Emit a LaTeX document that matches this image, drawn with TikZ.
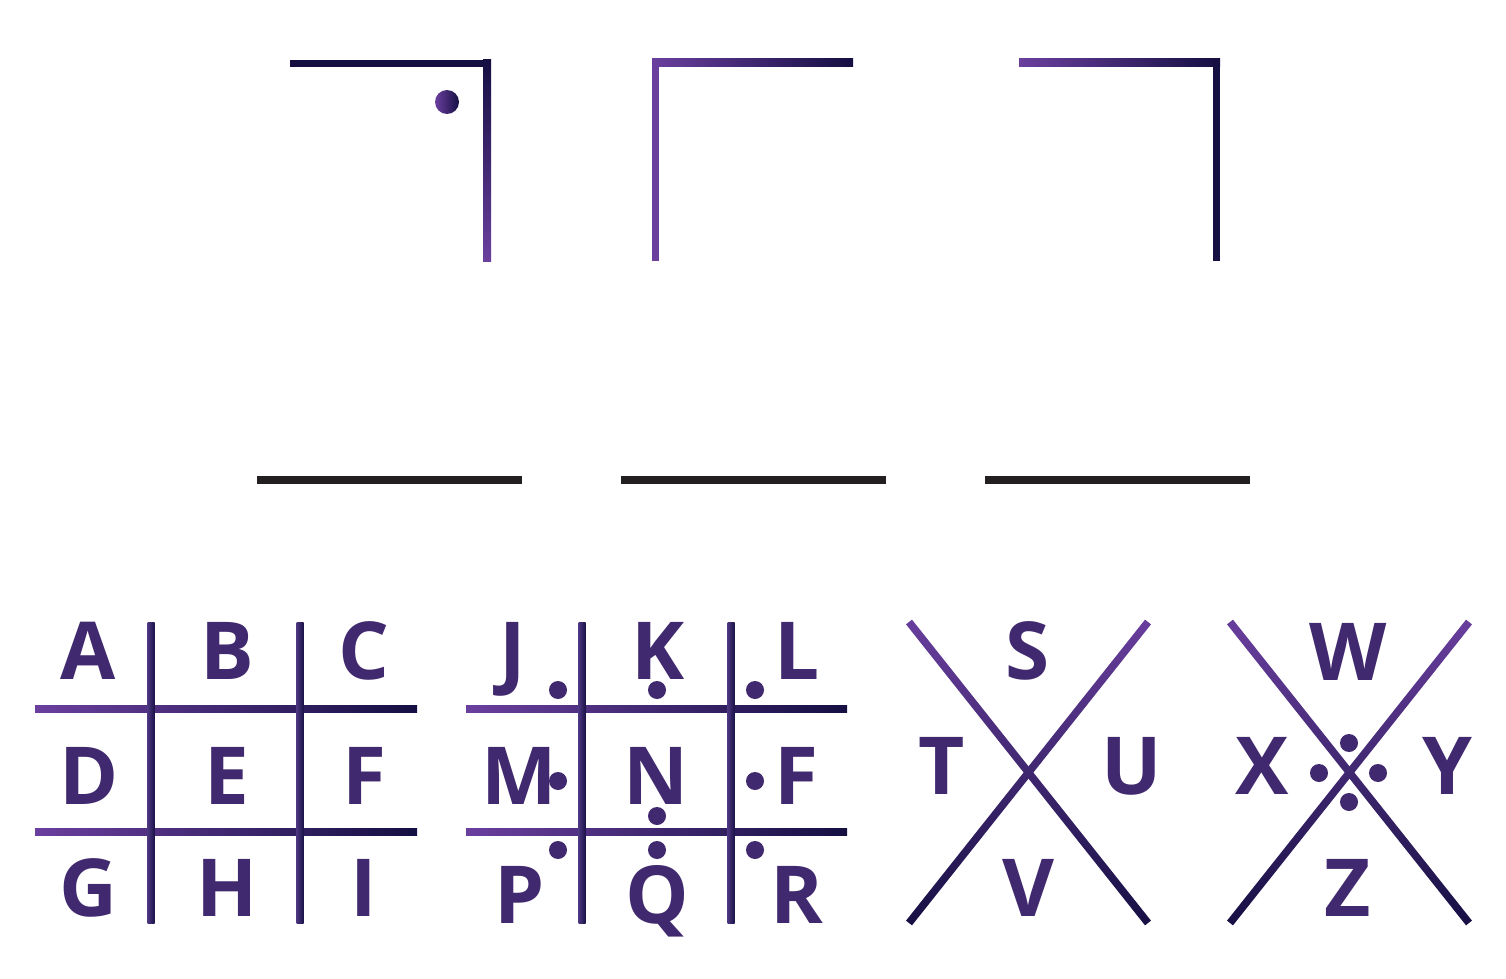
\documentclass[tikz,border=0pt]{standalone}
\usepackage{fontspec}
\setmainfont{Open Sans}
\usetikzlibrary{calc}
\definecolor{lp}{HTML}{6A3F9E}
\definecolor{dk}{HTML}{150F42}
\definecolor{txt}{HTML}{40296E}
\definecolor{blk}{HTML}{231F20}
\definecolor{vla}{HTML}{4B3580}
\definecolor{vlb}{HTML}{1A1248}
\newcommand\myshadeline[4]{%
  \begin{scope}
    \clip ($(#1)!1.9pt!90:(#2)$) -- ($(#1)!1.9pt!-90:(#2)$) -- ($(#2)!1.9pt!90:(#1)$) -- ($(#2)!1.9pt!-90:(#1)$) -- cycle;
    \shade[top color=lp, bottom color=dk] ($(#3)+(-8,-8)$) rectangle ($(#4)+(8,8)$);
  \end{scope}}
\begin{document}
\begin{tikzpicture}[x=0.5pt, y=-0.5pt,
  letter/.style={font=\fontsize{40}{40}\selectfont\bfseries, text=txt, anchor=base, inner sep=0pt},
  hgrad/.style={left color=lp, right color=dk},
  vgrid/.style={left color=vla, right color=vlb},
  blank/.style={fill=blk},
  gdot/.style={fill=txt}]
\fill[white] (0,0) rectangle (1506,979);
\useasboundingbox (0,0) rectangle (1506,979);

% ---- top symbols ----
% symbol 1
\fill[dk] (290,60) rectangle (491,67);
\shade[top color=dk, bottom color=lp] (483,60) rectangle (491,261);
\shade[left color=lp, right color=dk] (447,102) circle[radius=12];
% symbol 2
\fill[lp] (652,59) rectangle (659,261);
\shade[hgrad] (652,59) rectangle (853,67);
% symbol 3
\shade[hgrad] (1019,59) rectangle (1220,67);
\fill[dk] (1213,59) rectangle (1220,261);

% ---- blanks ----
\fill[blank] (257,476) rectangle (522,484);
\fill[blank] (621,476) rectangle (886,484);
\fill[blank] (985,476) rectangle (1250,484);

% ---- grid 1 ----
\shade[hgrad] (35,705.5) rectangle (417,712.5);
\shade[hgrad] (35,828.5) rectangle (417,835.5);
\shade[vgrid] (147.5,622) rectangle (154.5,923);
\shade[vgrid] (296.5,622) rectangle (303.5,923);
\node[letter] (A) at (88,679) {A};
\node[letter] (B) at (227,679) {B};
\node[letter] (C) at (364,679) {C};
\node[letter] (D) at (89,804) {D};
\node[letter] (E) at (227,804) {E};
\node[letter] (F) at (364,804) {F};
\node[letter] (G) at (88,916) {G};
\node[letter] (H) at (227,916) {H};
\node[letter] (I) at (364,916) {I};

% ---- grid 2 ----
\shade[hgrad] (466,705.5) rectangle (847,712.5);
\shade[hgrad] (466,828.5) rectangle (847,835.5);
\shade[vgrid] (578.5,622) rectangle (585.5,923);
\shade[vgrid] (727.5,622) rectangle (734.5,923);
\node[letter] (J) at (513,679) {J};
\node[letter] (K) at (658,679) {K};
\node[letter] (L) at (797,679) {L};
\node[letter] (M) at (519,804) {M};
\node[letter] (N) at (656,804) {N};
\node[letter] (F2) at (796,804) {F};
\node[letter] (P) at (520,923) {P};
\node[letter] (Q) at (657,923) {Q};
\node[letter] (R) at (797,923) {R};
\foreach \p in {(558,690),(657,690),(755,690),(558,781),(755,781),(657,816),(558,850),(657,850),(755,850)}
  \fill[gdot] \p circle[radius=9];

% ---- X 1 ----
\coordinate (xa1) at (909,622);
\coordinate (xa2) at (1148,923);
\coordinate (xa3) at (1148,622);
\coordinate (xa4) at (909,923);
\myshadeline{xa1}{xa2}{xa1}{xa2}
\myshadeline{xa3}{xa4}{xa1}{xa2}
\node[letter] (S) at (1028,679) {S};
\node[letter] (T) at (942,794) {T};
\node[letter] (U) at (1132,794) {U};
\node[letter] (V) at (1028,916) {V};

% ---- X 2 ----
\coordinate (xb1) at (1230,622);
\coordinate (xb2) at (1469,923);
\coordinate (xb3) at (1469,622);
\coordinate (xb4) at (1230,923);
\myshadeline{xb1}{xb2}{xb1}{xb2}
\myshadeline{xb3}{xb4}{xb1}{xb2}
\node[letter] (W) at (1348,680) {W};
\node[letter] (X) at (1262,794) {X};
\node[letter] (Y) at (1447,794) {Y};
\node[letter] (Z) at (1348,916) {Z};
\foreach \p in {(1349,743),(1319,773),(1378,773),(1349,802)}
  \fill[gdot] \p circle[radius=9];
\end{tikzpicture}
\end{document}
